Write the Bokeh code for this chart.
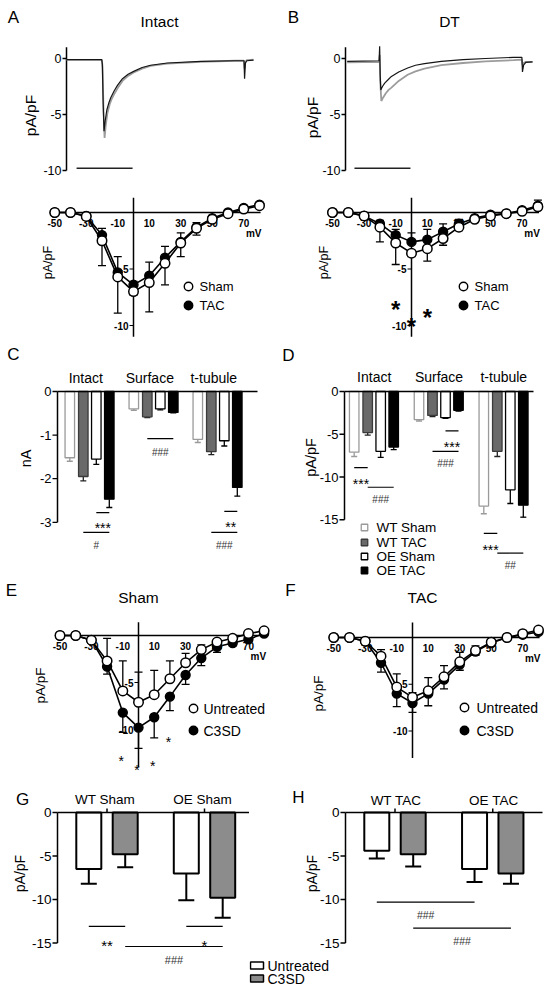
import math
from bokeh.plotting import figure
from bokeh.models import Range1d
from bokeh.layouts import column, row
from bokeh.embed import file_html
from bokeh.resources import INLINE
from bokeh.core.properties import value

FONT = "Liberation Sans"

# ======================= DATA =======================
# A / B : representative Ca current traces (time ms, current pA/pF)
A_gray_t = [0, 63, 64.5, 66, 68, 70, 73, 77, 80, 86, 92, 100, 110, 120, 135, 150, 180, 240, 300, 317, 318, 319.5, 322, 334]
A_gray_i = [-0.12, -0.12, -0.8, -4.5, -7.1, -6.0, -4.9, -4.1, -3.7, -3.1, -2.6, -2.0, -1.55, -1.25, -0.9, -0.65, -0.45, -0.3, -0.2, -0.2, -0.9, -0.3, -0.15, -0.1]
A_black_t = [0, 63, 64, 65.5, 67, 69, 72, 76, 79, 85, 91, 100, 110, 120, 135, 150, 180, 240, 300, 317, 318, 319.5, 322, 334]
A_black_i = [-0.1, -0.1, -0.5, -4.0, -6.5, -5.6, -4.6, -3.9, -3.5, -2.9, -2.4, -1.8, -1.4, -1.15, -0.8, -0.6, -0.4, -0.25, -0.2, -0.2, -1.8, -0.4, -0.2, -0.15]
B_gray_t = [3, 60, 61, 62, 64, 67, 72, 77, 82, 95, 111, 125, 141, 171, 210, 250, 300, 315, 316, 318, 322, 334]
B_gray_i = [-0.35, -0.3, 0.3, -2.0, -3.8, -3.5, -3.1, -2.8, -2.6, -2.0, -1.45, -1.15, -0.9, -0.6, -0.4, -0.25, -0.15, -0.1, -0.6, -0.4, -0.3, -0.3]
B_black_t = [3, 60, 61, 62, 63, 66, 70, 76, 82, 95, 111, 125, 141, 171, 210, 250, 300, 315, 316, 318, 322, 334]
B_black_i = [-0.25, -0.2, 1.1, -1.5, -2.8, -2.5, -2.2, -1.9, -1.6, -1.2, -0.85, -0.6, -0.45, -0.25, -0.1, 0.0, 0.1, 0.1, -1.2, -0.6, -0.35, -0.3]
TRACE_YTICKS = [0, -5, -10]
TRACE_YLABELS = ["0", "-5", "-10"]
SCALE_BAR_MS = 100

# I-V relationships (mV vs pA/pF)
MV = [-50, -40, -30, -20, -10, 0, 10, 20, 30, 40, 50, 60, 70, 80]
IV_XTICKS = [-50, -30, -10, 10, 30, 50, 70]
IV_XLABELS = ["-50", "-30", "-10", "10", "30", "50", "70"]
IV_YTICKS = [-5, -10]
IV_YLABELS = ["-5", "-10"]

A_sham = [0, 0, -0.35, -2.5, -5.7, -7.0, -6.2, -4.5, -2.7, -1.4, -0.6, -0.1, 0.3, 0.6]
A_sham_err = [0, 0, 0, 2.2, 3.2, 0.3, 2.6, 1.9, 1.2, 0.6, 0.2, 0, 0, 0]
A_tac = [0, 0, -0.3, -2.0, -5.3, -6.4, -5.6, -4.0, -2.6, -1.3, -0.5, 0.0, 0.4, 0.7]
A_tac_err = [0, 0, 0, 0.6, 1.4, 0.3, 1.2, 1.0, 0.8, 0.4, 0.2, 0, 0, 0]

B_sham = [0, 0, -0.3, -1.3, -2.7, -3.6, -3.2, -2.3, -1.3, -0.6, -0.3, -0.1, 0.1, 0.5]
B_sham_err = [0, 0, 0, 1.3, 1.9, 0.3, 1.1, 0.6, 0.3, 0.2, 0.1, 0, 0, 0]
B_tac = [0, 0, -0.3, -1.0, -2.0, -2.6, -2.4, -1.7, -1.0, -0.5, -0.2, -0.1, 0.2, 0.6]
B_tac_err = [0, 0, 0, 0.3, 0.5, 0.8, 0.9, 0.7, 0.4, 0.2, 0.1, 0, 0, 0.5]
B_STARS_MV = [-10, 10, 0]

E_unt = [0, 0, -0.5, -2.7, -5.9, -7.1, -6.3, -4.6, -2.9, -1.5, -0.7, -0.3, 0.2, 0.5]
E_unt_err = [0, 0, 0, 2.4, 3.2, 3.2, 2.6, 1.9, 1.0, 0.5, 0.3, 0, 0, 0]
E_c3 = [0, 0, -0.5, -3.3, -8.2, -9.8, -8.7, -6.5, -4.2, -2.4, -1.2, -0.8, -0.4, 0.2]
E_c3_err = [0, 0, 0, 0.8, 2.1, 2.2, 2.2, 1.5, 1.0, 0.8, 0.6, 0.3, 0, 0]
E_STARS_MV = [-10, 0, 10, 20]

F_unt = [0, 0, -0.4, -2.0, -5.3, -6.4, -5.7, -4.2, -2.6, -1.4, -0.5, 0.0, 0.4, 0.8]
F_unt_err = [0, 0, 0, 0.7, 1.4, 0.5, 1.4, 1.2, 1.0, 0.5, 0.2, 0, 0, 0]
F_c3 = [0, 0, -0.4, -2.7, -6.0, -7.0, -6.0, -4.5, -2.9, -1.5, -0.6, 0.0, 0.3, 0.6]
F_c3_err = [0, 0, 0, 1.0, 1.4, 1.0, 1.3, 1.0, 0.6, 0.4, 0.2, 0, 0, 0]

# C / D : peak currents by region
CD_GROUPS = ["Intact", "Surface", "t-tubule"]
CD_SERIES = ["WT Sham", "WT TAC", "OE Sham", "OE TAC"]
C_vals = [[-1.52, -0.40, -1.10], [-1.95, -0.58, -1.38], [-1.55, -0.40, -1.13], [-2.47, -0.48, -2.20]]
C_errs = [[0.08, 0.03, 0.07], [0.10, 0.02, 0.07], [0.12, 0.02, 0.12], [0.19, 0.01, 0.20]]
C_YTICKS = [0, -1, -2, -3]
C_YLABELS = ["0", "-1", "-2", "-3"]
D_vals = [[-7.1, -3.3, -13.4], [-4.8, -2.8, -7.0], [-7.0, -3.05, -11.5], [-6.5, -2.2, -13.3]]
D_errs = [[0.5, 0.15, 0.9], [0.3, 0.15, 0.6], [0.7, 0.1, 1.6], [0.3, 0.1, 1.4]]
D_YTICKS = [0, -5, -10, -15]
D_YLABELS = ["0", "-5", "-10", "-15"]

# significance brackets: (group_a, series_a, group_b, series_b, y, label)
C_SIG = [(0, 2, 0, 3, -2.78, "***"), (0, 1, 0, 3, -3.23, "#"), (1, 1, 1, 3, -1.08, "###"),
         (2, 2, 2, 3, -2.75, "**"), (2, 1, 2, 3, -3.23, "###")]
D_SIG = [(0, 0, 0, 1, -8.9, "***"), (0, 1, 0, 3, -11.2, "###"), (1, 2, 1, 3, -4.6, "***"),
         (1, 1, 1, 3, -7.0, "###"), (2, 0, 2, 1, -16.6, "***"), (2, 1, 2, 3, -18.9, "##")]

# G / H : C3SD effect
G_GROUPS = ["WT Sham", "OE Sham"]
H_GROUPS = ["WT TAC", "OE TAC"]
GH_SERIES = ["Untreated", "C3SD"]
G_vals = [[-6.5, -7.0], [-4.8, -9.8]]
G_errs = [[1.7, 3.1], [1.5, 2.3]]
H_vals = [[-4.4, -6.5], [-4.8, -7.0]]
H_errs = [[0.9, 1.5], [1.4, 1.2]]
GH_YTICKS = [0, -5, -10, -15]
GH_YLABELS = ["0", "-5", "-10", "-15"]
G_SIG = [(0, 0, 0, 1, -13.1, "**"), (1, 0, 1, 1, -13.1, "*"), (0, 1, 1, 1, -15.4, "###")]
H_SIG = [(0, 0, 1, 0, -10.3, "###"), (0, 1, 1, 1, -13.3, "###")]

# ======================= HELPERS =======================
class Panel:
    """A borderless figure whose frame covers the whole figure; pixel anchors set the scales."""
    def __init__(self, w, h, left, top, xpx, xs, ypx, ys):
        self.xpx, self.xs, self.ypx, self.ys = xpx, xs, ypx, ys
        p = figure(width=w, height=h,
                   x_range=Range1d(self.X(left), self.X(left + w)),
                   y_range=Range1d(self.Y(top + h), self.Y(top)),
                   x_axis_type=None, y_axis_type=None, toolbar_location=None,
                   output_backend="svg", min_border=0, title_location=None)
        p.outline_line_color = None
        p.background_fill_color = "white"
        p.border_fill_color = "white"
        self.p = p

    def X(self, px): return (px - self.xpx) / self.xs
    def Y(self, py): return (self.ypx - py) / self.ys
    def PX(self, x): return self.xpx + x * self.xs
    def PY(self, y): return self.ypx - y * self.ys


def txt(pn, px, py, s, size, align="center", baseline="middle", bold=False, angle=0, color="black"):
    pn.p.text(x=[pn.X(px)], y=[pn.Y(py)], text=[s], text_font=value(FONT),
              text_font_size=f"{size}px", text_align=align, text_baseline=baseline,
              text_font_style="bold" if bold else "normal", angle=angle, text_color=color)


def sym(pn, px, pcy, s, size, bold=False, color="black"):
    f = 0.6 if "*" in s else 0.36
    txt(pn, px, pcy + f * size, s, size, baseline="alphabetic", bold=bold, color=color)


def trace_panel(pn, gt, gi, bt, bi, bar_start, letter, lpos, title, tpos, ylpos):
    p = pn.p
    p.segment(x0=[0], y0=[1.0], x1=[0], y1=[-10], line_color="black", line_width=1.5)
    tx = pn.X(pn.PX(0) - 4)
    n = len(TRACE_YTICKS)
    p.segment(x0=[tx] * n, y0=TRACE_YTICKS, x1=[0] * n, y1=TRACE_YTICKS, line_color="black", line_width=1.3)
    p.text(x=[pn.X(pn.PX(0) - 5)] * n, y=TRACE_YTICKS, text=TRACE_YLABELS, text_font=value(FONT),
           text_font_size="12.5px", text_align="right", text_baseline="middle")
    p.line(gt, gi, line_color="#9c9c9c", line_width=1.8)
    p.line(bt, bi, line_color="#151515", line_width=1.2)
    p.segment(x0=[bar_start], y0=[-9.8], x1=[bar_start + SCALE_BAR_MS], y1=[-9.8], line_color="#222222", line_width=1.5)
    txt(pn, lpos[0], lpos[1], letter, 17)
    txt(pn, tpos[0], tpos[1], title, 15.5)
    txt(pn, ylpos[0], ylpos[1], "pA/pF", 15.5, angle=math.pi / 2)


def iv_panel(pn, ov, oe, odir, fv, fe, fdir, ytop, ybot, ylpos, ylsize, leg, legsize, names):
    p = pn.p
    # axes crossing at zero
    p.segment(x0=[0], y0=[ytop], x1=[0], y1=[ybot], line_color="black", line_width=1.5)
    p.segment(x0=[-51], y0=[0], x1=[80.7], y1=[0], line_color="black", line_width=1.5)
    tx = pn.X(pn.PX(0) - 4)
    n = len(IV_YTICKS)
    p.segment(x0=[tx] * n, y0=IV_YTICKS, x1=[0] * n, y1=IV_YTICKS, line_color="black", line_width=1.2)
    p.text(x=[pn.X(pn.PX(0) - 5)] * n, y=IV_YTICKS, text=IV_YLABELS, text_font=value(FONT),
           text_font_size="10px", text_font_style="bold", text_align="right", text_baseline="middle")
    m = len(IV_XTICKS)
    p.text(x=IV_XTICKS, y=[pn.Y(pn.PY(0) + 10)] * m, text=IV_XLABELS, text_font=value(FONT),
           text_font_size="10px", text_font_style="bold", text_align="center", text_baseline="middle")
    p.text(x=[pn.X(pn.PX(IV_XTICKS[-1]) + 10)], y=[pn.Y(pn.PY(0) + 20.5)], text=["mV"], text_font=value(FONT),
           text_font_size="10px", text_font_style="bold", text_align="center", text_baseline="middle")
    cap = 4.0 / pn.xs
    for vals, errs, d in ((fv, fe, fdir), (ov, oe, odir)):
        xs = [x for x, e in zip(MV, errs) if e > 0]
        y0 = [v for v, e in zip(vals, errs) if e > 0]
        y1 = [v + d * e for v, e in zip(vals, errs) if e > 0]
        p.segment(x0=xs, y0=y0, x1=xs, y1=y1, line_color="black", line_width=1.3)
        p.segment(x0=[x - cap for x in xs], y0=y1, x1=[x + cap for x in xs], y1=y1, line_color="black", line_width=1.3)
    p.line(MV, fv, line_color="black", line_width=1.6)
    p.line(MV, ov, line_color="black", line_width=1.6)
    p.scatter(MV, fv, marker="circle", size=9, fill_color="black", line_color="black", line_width=1.4)
    p.scatter(MV, ov, marker="circle", size=9.5, fill_color="white", line_color="black", line_width=1.5)
    # legend
    (mx, my1, my2, tx0) = leg
    p.scatter([pn.X(mx)], [pn.Y(my1)], marker="circle", size=8.5, fill_color="white", line_color="black", line_width=1.4)
    p.scatter([pn.X(mx)], [pn.Y(my2)], marker="circle", size=8.5, fill_color="black", line_color="black", line_width=1.4)
    txt(pn, tx0, my1, names[0], legsize, align="left")
    txt(pn, tx0, my2, names[1], legsize, align="left")
    txt(pn, ylpos[0], ylpos[1], "pA/pF", ylsize, angle=math.pi / 2)


def bar_panel(pn, vals, errs, offsets_px, width_px, styles, cap_px, err_lw, axis_px, yticks, ylabels,
              x_end_px, tick_size, groups, head_py, head_size, head_dx, sig, sig_sizes, sig_off,
              cat_ticks=False):
    p = pn.p
    ng = len(groups)
    for s in range(len(vals)):
        st = styles[s]
        xs = [g + offsets_px[s] / pn.xs for g in range(ng)]
        lows = [v - e for v, e in zip(vals[s], errs[s])]
        cap = cap_px / pn.xs
        p.segment(x0=xs, y0=vals[s], x1=xs, y1=lows, line_color=st[2], line_width=err_lw)
        p.segment(x0=[x - cap for x in xs], y0=lows, x1=[x + cap for x in xs], y1=lows,
                  line_color=st[2], line_width=err_lw)
        p.vbar(x=xs, top=[0] * ng, bottom=vals[s], width=width_px / pn.xs,
               fill_color=st[0], line_color=st[1], line_width=st[3])
    ax = pn.X(axis_px)
    p.segment(x0=[ax], y0=[0], x1=[ax], y1=[min(yticks)], line_color="black", line_width=1.5)
    p.segment(x0=[ax], y0=[0], x1=[pn.X(x_end_px)], y1=[0], line_color="black", line_width=1.5)
    n = len(yticks)
    p.segment(x0=[pn.X(axis_px - 5)] * n, y0=yticks, x1=[ax] * n, y1=yticks, line_color="black", line_width=1.3)
    p.text(x=[pn.X(axis_px - 6)] * n, y=yticks, text=ylabels, text_font=value(FONT),
           text_font_size=f"{tick_size}px", text_align="right", text_baseline="middle")
    if cat_ticks:
        p.segment(x0=list(range(ng)), y0=[0] * ng, x1=list(range(ng)), y1=[pn.Y(pn.PY(0) - 4)] * ng,
                  line_color="black", line_width=1.5)
    p.text(x=[g + head_dx / pn.xs for g in range(ng)], y=[pn.Y(head_py)] * ng, text=groups,
           text_font=value(FONT), text_font_size=f"{head_size}px", text_align="center", text_baseline="middle")
    for (ga, sa, gb, sb, y, lab) in sig:
        xa = ga + offsets_px[sa] / pn.xs
        xb = gb + offsets_px[sb] / pn.xs
        p.segment(x0=[xa], y0=[y], x1=[xb], y1=[y], line_color="black", line_width=1.2)
        is_star = "*" in lab
        sz = sig_sizes[0] if is_star else sig_sizes[1]
        off = sig_off[0] if is_star else sig_off[1]
        sym(pn, pn.PX((xa + xb) / 2), pn.PY(y) + off, lab, sz, color="black" if is_star else "#333333")


# ======================= PANELS =======================
LW, RW = 275, 276
R1_TOP, R1_H = 0, 186
R2_TOP, R2_H = 186, 156
R3_TOP, R3_H = 342, 236
R4_TOP, R4_H = 578, 200
R5_TOP, R5_H = 778, 212

# Row 1: traces
pA = Panel(LW, R1_H, 0, R1_TOP, 66, 0.56, 58, 11.2)
trace_panel(pA, A_gray_t, A_gray_i, A_black_t, A_black_i, 18, "A", (13, 17), "Intact", (159, 21), (30, 115))
pB = Panel(RW, R1_H, LW, R1_TOP, 345, 0.56, 58, 11.2)
trace_panel(pB, B_gray_t, B_gray_i, B_black_t, B_black_i, 16, "B", (293, 17), "DT", (449, 21), (312, 117))

# Row 2: I-V Intact / DT
pAiv = Panel(LW, R2_H, 0, R2_TOP, 133, 1.575, 212, 11.3)
iv_panel(pAiv, A_sham, A_sham_err, -1, A_tac, A_tac_err, 1, 1.3, -11, (47, 262), 12.5,
         (188, 286, 305, 199), 13, ("Sham", "TAC"))
pBiv = Panel(RW, R2_H, LW, R2_TOP, 411, 1.58, 212, 11.3)
iv_panel(pBiv, B_sham, B_sham_err, -1, B_tac, B_tac_err, 1, 1.3, -11, (323, 262), 12.5,
         (463, 286, 305, 474), 13, ("Sham", "TAC"))
for mvv, pcy in zip(B_STARS_MV, [295, 303, 312]):
    sym(pBiv, pBiv.PX(mvv), pcy, "*", 24, bold=True)

# Row 3: bars C / D
CD_STYLES = [("white", "#9a9a9a", "#9a9a9a", 1.3), ("#6a6a6a", "#3a3a3a", "#222222", 1.3),
             ("white", "black", "black", 1.3), ("black", "black", "black", 1.3)]
CD_OFFS = [-20, -6.5, 6.5, 19.5]
pC = Panel(LW, R3_H, 0, R3_TOP, 89.3, 64.0, 391, 43.6)
bar_panel(pC, C_vals, C_errs, CD_OFFS, 9.5, CD_STYLES, 3, 1.3, 57, C_YTICKS, C_YLABELS, 257, 13,
          CD_GROUPS, 377, 14, -4, C_SIG, (14, 10), (7, 10))
txt(pC, 13, 354, "C", 17)
txt(pC, 25, 458, "nA", 14.5, angle=math.pi / 2)

pD = Panel(RW, R3_H, LW, R3_TOP, 373.7, 64.8, 391, 8.55)
bar_panel(pD, D_vals, D_errs, CD_OFFS, 9.5, CD_STYLES, 3, 1.3, 344, D_YTICKS, D_YLABELS, 533, 13,
          CD_GROUPS, 376, 14, 0, D_SIG, (14, 10), (8, 9))
txt(pD, 288, 355, "D", 17)
txt(pD, 310, 457, "pA/pF", 14.5, angle=math.pi / 2)
leg_y = [527, 542, 556, 570]
for (st, name, ly) in zip(CD_STYLES, CD_SERIES, leg_y):
    pD.p.scatter([pD.X(364)], [pD.Y(ly)], marker="square", size=6.5, fill_color=st[0], line_color=st[1], line_width=1.3)
    txt(pD, 376, ly, name, 13.5, align="left")

# Row 4: I-V Sham / TAC with C3SD
pE = Panel(LW, R4_H, 0, R4_TOP, 138, 1.57, 635, 9.4)
iv_panel(pE, E_unt, E_unt_err, 1, E_c3, E_c3_err, -1, 1.4, -14, (40, 685), 13.5,
         (193, 708, 730, 203), 14, ("Untreated", "C3SD"))
txt(pE, 11, 590, "E", 17)
txt(pE, 138, 597, "Sham", 15.5)
for mvv, pcy in zip(E_STARS_MV, [752, 761, 757, 733]):
    sym(pE, pE.PX(mvv) - 1.5, pcy, "*", 14)

pF = Panel(RW, R4_H, LW, R4_TOP, 412, 1.575, 637, 9.35)
iv_panel(pF, F_unt, F_unt_err, 1, F_c3, F_c3_err, -1, 1.6, -12.9, (318, 693), 13.5,
         (464, 707, 730, 476), 14, ("Untreated", "C3SD"))
txt(pF, 290, 590, "F", 17)
txt(pF, 422, 597, "TAC", 15.5)

# Row 5: bars G / H (+ shared legend inside H's canvas)
GW = 249
HW = LW + RW - GW
GH_STYLES = [("white", "black", "black", 2), ("#8c8c8c", "black", "black", 2)]
GH_OFFS = [-18.2, 18.2]
pG = Panel(GW, R5_H, 0, R5_TOP, 106.5, 97.5, 812, 8.7)
bar_panel(pG, G_vals, G_errs, GH_OFFS, 25, GH_STYLES, 8, 2, 57, GH_YTICKS, GH_YLABELS, 255, 13.5,
          G_GROUPS, 799, 13.5, -2, G_SIG, (15, 11), (10, 10), cat_ticks=True)
txt(pG, 22, 799, "G", 17)
txt(pG, 19, 873, "pA/pF", 14, angle=math.pi / 2)

pH = Panel(HW, R5_H, GW, R5_TOP, 394.5, 97.75, 812, 8.7)
bar_panel(pH, H_vals, H_errs, GH_OFFS, 25, GH_STYLES, 8, 2, 345, GH_YTICKS, GH_YLABELS, 542, 13.5,
          H_GROUPS, 800, 13.5, 1, H_SIG, (15, 10.5), (9, 9), cat_ticks=True)
txt(pH, 298, 797, "H", 17)
txt(pH, 311, 873, "pA/pF", 14, angle=math.pi / 2)
for (st, name, ly) in zip(GH_STYLES, GH_SERIES, [965, 978]):
    pH.p.quad(left=[pH.X(250)], right=[pH.X(263)], top=[pH.Y(ly - 3.5)], bottom=[pH.Y(ly + 3.5)],
              fill_color=st[0], line_color="black", line_width=1.5)
    txt(pH, 267, ly, name, 14, align="left")

layout = column(
    row(pA.p, pB.p),
    row(pAiv.p, pBiv.p),
    row(pC.p, pD.p),
    row(pE.p, pF.p),
    row(pG.p, pH.p),
)

open("out.html", "w").write(file_html(layout, INLINE))
